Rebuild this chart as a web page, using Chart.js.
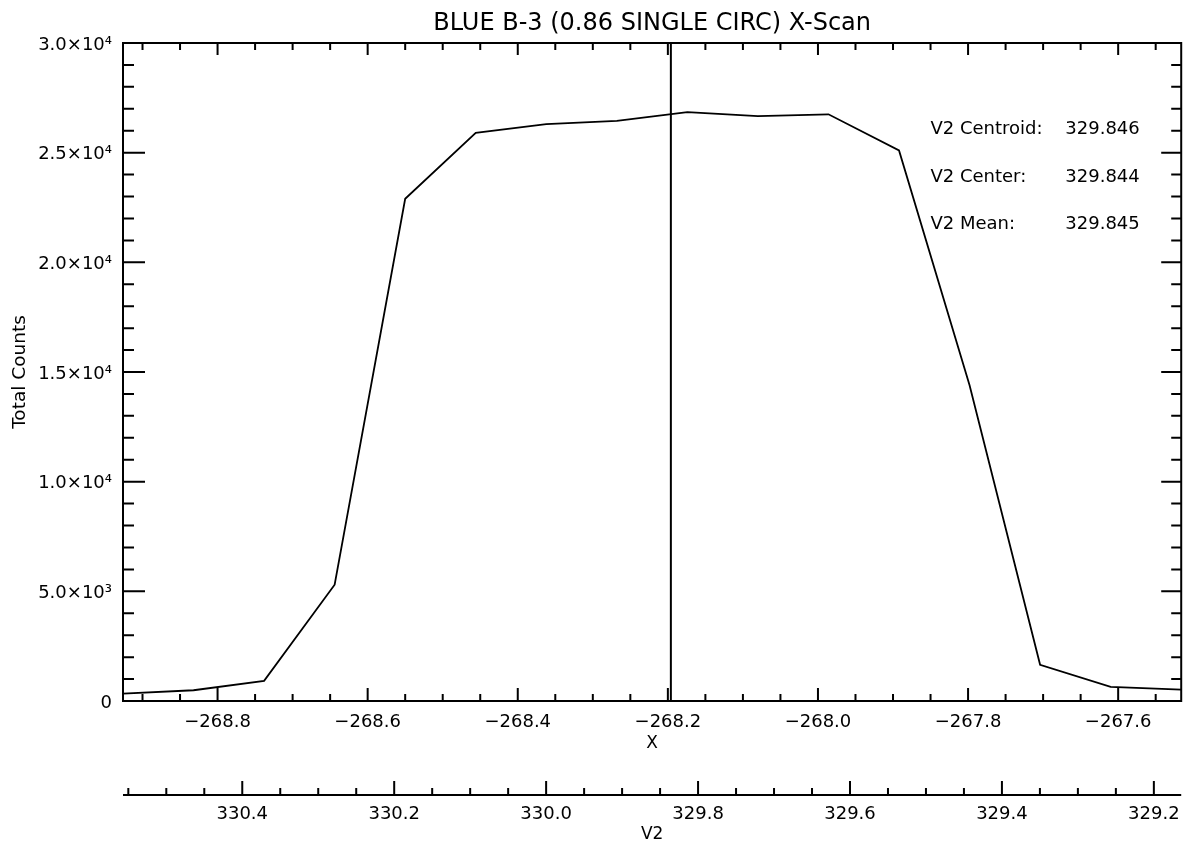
<!DOCTYPE html>
<html>
<head>
<meta charset="utf-8">
<title>BLUE B-3 X-Scan</title>
<script src="https://cdn.jsdelivr.net/npm/chart.js@4.4.0/dist/chart.umd.min.js"></script>
<style>
  html, body { margin: 0; padding: 0; background: #fff; }
  #wrap { width: 1188px; height: 848px; }
</style>
</head>
<body>
<div id="wrap"><canvas id="scan"></canvas></div>
<script>
// scan positions (X) and total counts
const scanX = [-268.926, -268.832, -268.738, -268.644, -268.550, -268.456, -268.362, -268.268,
               -268.174, -268.080, -267.986, -267.892, -267.798, -267.704, -267.610, -267.516];
const totalCounts = [340, 490, 920, 5300, 22900, 25900, 26300, 26450,
                     26850, 26670, 26750, 25100, 14400, 1650, 640, 520];

// vertical marker at the V2 mean
const markerX = -268.196;

const xRange = [-268.926, -267.516];
const v2Range = [329.164, 330.557];
const yRange = [0, 30000];

const xTicks = [-268.8, -268.6, -268.4, -268.2, -268.0, -267.8, -267.6];
const v2Ticks = [330.4, 330.2, 330.0, 329.8, 329.6, 329.4, 329.2];
const yTicks = [0, 5000, 10000, 15000, 20000, 25000, 30000];
const yTickLabels = ['0', '5.0×10³', '1.0×10⁴', '1.5×10⁴', '2.0×10⁴', '2.5×10⁴', '3.0×10⁴'];

const statNames = ['V2 Centroid:', 'V2 Center:', 'V2 Mean:'];
const statValues = ['329.846', '329.844', '329.845'];

Chart.defaults.font.family = '"DejaVu Sans", sans-serif';
Chart.defaults.color = '#000';

function minorTicks(lo, hi, step) {
    const out = [];
    for (let k = Math.ceil(lo / step - 1e-6); k <= Math.floor(hi / step + 1e-6); k++) out.push(k * step);
    return out;
}

function fixedTicks(list) {
    return scale => { scale.ticks = list.map(v => ({ value: v })); };
}

const fmtSigned = v => (v < 0 ? '\u2212' : '') + Math.abs(v).toFixed(1);

// IDL style frame: box with inward ticks on all four sides, plus the V2 axis
const frameTicks = {
    id: 'frameTicks',
    afterDraw(chart) {
        const { ctx, chartArea: a, scales } = chart;
        const x = scales.x, y = scales.y, v2 = scales.v2;
        ctx.save();
        ctx.strokeStyle = '#000';
        ctx.lineWidth = 2;
        ctx.strokeRect(a.left, a.top, a.right - a.left, a.bottom - a.top);

        ctx.beginPath();
        const seg = (x0, y0, x1, y1) => { ctx.moveTo(x0, y0); ctx.lineTo(x1, y1); };
        minorTicks(x.min, x.max, 0.05).forEach(v => {
            const p = x.getPixelForValue(v);
            seg(p, a.bottom, p, a.bottom - 7);
            seg(p, a.top, p, a.top + 7);
        });
        xTicks.forEach(v => {
            const p = x.getPixelForValue(v);
            seg(p, a.bottom, p, a.bottom - 13);
            seg(p, a.top, p, a.top + 12);
        });
        minorTicks(y.min, y.max, 1000).forEach(v => {
            const p = y.getPixelForValue(v);
            seg(a.left, p, a.left + 11, p);
            seg(a.right, p, a.right - 10, p);
        });
        yTicks.forEach(v => {
            const p = y.getPixelForValue(v);
            seg(a.left, p, a.left + 22, p);
            seg(a.right, p, a.right - 20, p);
        });
        // V2 axis line with upward ticks
        seg(v2.left, v2.top, v2.right, v2.top);
        minorTicks(v2.min, v2.max, 0.05).forEach(v => {
            const p = v2.getPixelForValue(v);
            seg(p, v2.top, p, v2.top - 7);
        });
        v2Ticks.forEach(v => {
            const p = v2.getPixelForValue(v);
            seg(p, v2.top, p, v2.top - 14);
        });
        ctx.stroke();

        // centroid / center / mean text block
        ctx.font = '18px "DejaVu Sans"';
        ctx.fillStyle = '#000';
        ctx.textBaseline = 'middle';
        const w = a.right - a.left, h = a.bottom - a.top;
        statNames.forEach((name, i) => {
            const ty = a.top + h * (0.1315 + i * 0.0719);
            ctx.fillText(name, a.left + w * 0.763, ty);
            ctx.fillText(statValues[i], a.left + w * 0.8905, ty);
        });
        ctx.restore();
    }
};

new Chart(document.getElementById('scan'), {
    type: 'scatter',
    data: {
        datasets: [
            {
                label: 'Total Counts',
                data: scanX.map((v, i) => ({ x: v, y: totalCounts[i] })),
                showLine: true,
                borderColor: '#000',
                borderWidth: 1.8,
                pointRadius: 0,
                tension: 0,
            },
            {
                label: 'V2 Mean',
                data: [{ x: markerX, y: yRange[0] }, { x: markerX, y: yRange[1] }],
                showLine: true,
                borderColor: '#000',
                borderWidth: 2,
                pointRadius: 0,
            },
        ],
    },
    options: {
        responsive: true,
        maintainAspectRatio: false,
        animation: false,
        layout: { padding: { left: 0, right: 4, top: 0, bottom: 0 } },
        plugins: {
            legend: { display: false },
            tooltip: { enabled: false },
            title: {
                display: true,
                text: 'BLUE B-3 (0.86 SINGLE CIRC) X-Scan',
                fullSize: false,
                color: '#000',
                font: { size: 24, weight: 'normal' },
                padding: { top: 8.9, bottom: 5.3 },
            },
        },
        scales: {
            x: {
                type: 'linear',
                position: 'bottom',
                min: xRange[0],
                max: xRange[1],
                weight: 0,
                grid: { display: false, drawTicks: false },
                border: { display: false },
                afterBuildTicks: fixedTicks(xTicks),
                afterFit: scale => { scale.height = 94; },
                ticks: {
                    font: { size: 18 },
                    padding: 10.5,
                    maxRotation: 0,
                    callback: v => fmtSigned(v),
                },
                title: {
                    display: true,
                    text: 'X',
                    font: { size: 17 },
                    padding: { top: 0, bottom: 41.5 },
                },
            },
            v2: {
                type: 'linear',
                position: 'bottom',
                reverse: true,
                min: v2Range[0],
                max: v2Range[1],
                weight: 1,
                grid: { display: false, drawTicks: false },
                border: { display: false },
                afterBuildTicks: fixedTicks(v2Ticks),
                afterFit: scale => { scale.height = 53; },
                ticks: {
                    font: { size: 18 },
                    padding: 8.2,
                    maxRotation: 0,
                    callback: v => v.toFixed(1),
                },
                title: {
                    display: true,
                    text: 'V2',
                    font: { size: 17 },
                    padding: { top: 0, bottom: 3 },
                },
            },
            y: {
                type: 'linear',
                position: 'left',
                min: yRange[0],
                max: yRange[1],
                grid: { display: false, drawTicks: false },
                border: { display: false },
                afterBuildTicks: fixedTicks(yTicks),
                afterFit: scale => { scale.width = 123; },
                ticks: {
                    font: { size: 18 },
                    padding: 11,
                    labelOffset: 2,
                    callback: (v, i) => yTickLabels[i],
                },
                title: {
                    display: true,
                    text: 'Total Counts',
                    font: { size: 18.5 },
                    padding: { top: 9, bottom: 4 },
                },
            },
        },
    },
    plugins: [frameTicks],
});
</script>
</body>
</html>
